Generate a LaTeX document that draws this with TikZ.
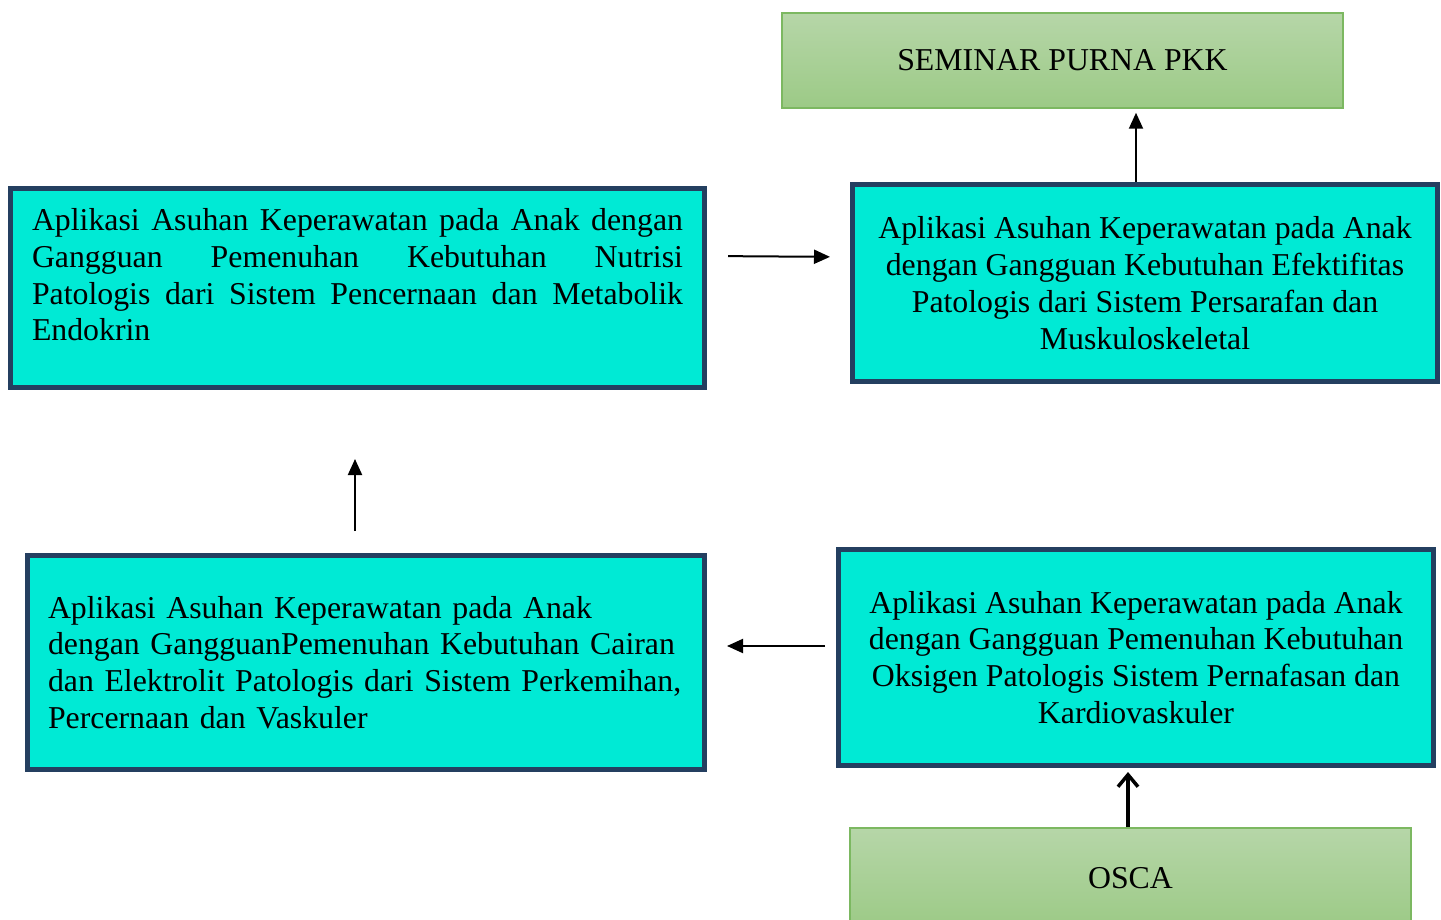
\documentclass[tikz,border=0pt]{standalone}
\usepackage{fontspec}
\setmainfont{Liberation Serif}
\usetikzlibrary{arrows.meta,positioning,calc}
\definecolor{boxfill}{HTML}{00EAD5}
\definecolor{boxline}{HTML}{243F60}
\definecolor{greentop}{HTML}{B6D6A8}
\definecolor{greenbot}{HTML}{9CCA86}
\definecolor{greenline}{HTML}{7CB861}

\begin{document}
\begin{tikzpicture}[
  x=1pt, y=-1pt,
  every node/.style={font=\fontsize{31.8}{36.8}\selectfont, inner sep=0pt},
  topic/.style={draw=boxline, line width=5pt, fill=boxfill},
  stage/.style={draw=greenline, line width=1.5pt, top color=greentop,
    bottom color=greenbot, minimum width=561pt},
  arr/.style={-{Triangle[length=16pt,width=14pt]}, line width=2pt},
  arrb/.style={-{Straight Barb[length=12pt,width=20pt]}, line width=3.5pt}
]
  \useasboundingbox (0,0) rectangle (1441,920);

  \node[stage, minimum height=95pt] (sem) at (1062.5,60.5) {SEMINAR PURNA PKK};
  \node[topic, minimum width=694pt, minimum height=199pt] (b1) at (357.5,288)
    {\parbox[c][159pt][t]{651pt}{Aplikasi Asuhan Keperawatan pada Anak dengan\linebreak
     Gangguan Pemenuhan Kebutuhan Nutrisi\linebreak
     Patologis dari Sistem Pencernaan dan Metabolik\linebreak
     Endokrin}};
  \node[topic, minimum width=585pt, minimum height=197pt, align=center] (b2) at (1145,283)
    {Aplikasi Asuhan Keperawatan pada Anak\\
     dengan Gangguan Kebutuhan Efektifitas\\
     Patologis dari Sistem Persarafan dan\\
     Muskuloskeletal};
  \node[topic, minimum width=677pt, minimum height=214pt, text width=636pt, align=left] (b3) at (366,662.5)
    {Aplikasi Asuhan Keperawatan pada Anak\\
     dengan GangguanPemenuhan Kebutuhan Cairan\\
     dan Elektrolit Patologis dari Sistem Perkemihan,\\
     Percernaan dan Vaskuler};
  \node[topic, minimum width=595pt, minimum height=216pt, align=center] (b4) at (1136,657.5)
    {Aplikasi Asuhan Keperawatan pada Anak\\
     dengan Gangguan Pemenuhan Kebutuhan\\
     Oksigen Patologis Sistem Pernafasan dan\\
     Kardiovaskuler};
  \node[stage, minimum height=100pt] (osca) at (1130.5,878) {OSCA};

  \draw[arr, shorten <=21pt, shorten >=20pt] ($(b1.east)+(0,-32)$) -- ($(b2.west)+(0,-26)$);
  \draw[arr, shorten >=4pt] ($(b2.north)+(-9,0)$) -- ($(b2.north |- sem.south)+(-9,0)$);
  \draw[arr, shorten <=22pt, shorten >=69pt] ($(b3.north)+(-11,0)$) -- ($(b3.north |- b1.south)+(-11,0)$);
  \draw[arr, shorten <=11pt, shorten >=20pt] ($(b4.west)+(0,-11.5)$) -- ($(b3.east)+(0,-16.5)$);
  \draw[arrb, shorten >=4pt] ($(osca.north)+(-2.5,0)$) -- ($(osca.north |- b4.south)+(-2.5,0)$);
\end{tikzpicture}
\end{document}
